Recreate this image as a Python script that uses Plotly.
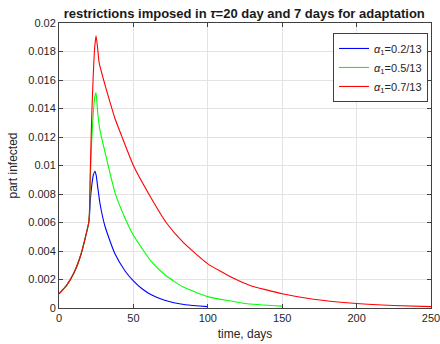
import plotly.graph_objects as go

# ---- data ----
t_blue = [0, 5, 10, 15, 20, 20.5, 21, 22, 23, 24.2, 25, 26, 27.6, 31, 37.6, 44.4, 50, 56, 62, 71, 85, 100]
y_blue = [0.0010, 0.00157, 0.00245, 0.00384, 0.0060, 0.0065, 0.0075, 0.0086, 0.0093, 0.0096, 0.0093, 0.0085,
          0.0073, 0.0057, 0.0038, 0.0026, 0.0019, 0.00133, 0.00093, 0.00054, 0.00023, 0.0001]

t_green = [0, 5, 10, 15, 20, 20.5, 21, 22, 23, 24, 24.9, 26, 27.5, 31, 37.6, 44.4, 50, 62, 72, 83.5, 100, 125, 150]
y_green = [0.0010, 0.00157, 0.00245, 0.00384, 0.0060, 0.0068, 0.0090, 0.0118, 0.0136, 0.0148, 0.0151, 0.0137,
           0.0125, 0.0109, 0.0081, 0.0063, 0.0051, 0.00327, 0.00226, 0.00147, 0.0008, 0.00032, 0.00013]

t_red = [0, 5, 10, 15, 20, 20.5, 21, 22, 23, 24, 24.9, 26, 27, 30, 33, 37.6, 42, 50, 62, 72, 83.5, 100, 117, 128,
         150, 171, 200, 225, 250]
y_red = [0.0010, 0.00157, 0.00245, 0.00384, 0.0060, 0.0068, 0.0095, 0.0135, 0.0163, 0.0183, 0.0191, 0.0182,
         0.0172, 0.0160, 0.0149, 0.0133, 0.0121, 0.0100, 0.0077, 0.0060, 0.0046, 0.0031, 0.0021, 0.0016,
         0.00100, 0.00062, 0.00032, 0.00018, 0.0001]

series_names = ["<i>α</i><sub>1</sub>=0.2/13", "<i>α</i><sub>1</sub>=0.5/13", "<i>α</i><sub>1</sub>=0.7/13"]

x_ticks = [0, 50, 100, 150, 200, 250]
y_ticks = [0, 0.002, 0.004, 0.006, 0.008, 0.01, 0.012, 0.014, 0.016, 0.018, 0.02]
y_tick_labels = ["0", "0.002", "0.004", "0.006", "0.008", "0.01", "0.012", "0.014", "0.016", "0.018", "0.02"]

title_text = "<b>restrictions imposed in <i>τ</i>=20 day and 7 days for adaptation</b>"

# ---- figure ----
fig = go.Figure()
for tx, ty, name, col in [(t_blue, y_blue, series_names[0], "#0000ff"),
                          (t_green, y_green, series_names[1], "#00ff00"),
                          (t_red, y_red, series_names[2], "#ff0000")]:
    fig.add_trace(go.Scatter(x=tx, y=ty, mode="lines", name=name,
                             line=dict(color=col, width=1.1, shape="spline", smoothing=0.5)))

axis_common = dict(showline=True, linecolor="#404040", linewidth=1, mirror="ticks",
                   ticks="inside", ticklen=4, tickcolor="#404040", automargin=False,
                   ticklabeloverflow="allow",
                   showgrid=True, gridcolor="#e3e3e3", gridwidth=1, zeroline=False,
                   tickfont=dict(family="Liberation Sans, Arial", size=11, color="#262626"))

fig.update_layout(
    width=440, height=344,
    margin=dict(l=59, r=9, t=23, b=36, autoexpand=False),
    paper_bgcolor="white", plot_bgcolor="white",
    font=dict(family="Liberation Sans, Arial", color="#262626"),
    title=dict(text=title_text, x=0.555, xanchor="center", y=0.962, yanchor="middle",
               font=dict(family="Liberation Sans, Arial", size=13, color="#1a1a1a")),
    xaxis=dict(range=[0, 250], tickvals=x_ticks, title=dict(text="time, days", standoff=6,
               font=dict(size=12)), **axis_common),
    yaxis=dict(range=[0, 0.02], tickvals=y_ticks, ticktext=y_tick_labels,
               title=dict(text="part infected", standoff=8, font=dict(size=12)), **axis_common),
    legend=dict(x=0.992, xanchor="right", y=0.965, yanchor="top",
                bgcolor="white", bordercolor="#404040", borderwidth=1,
                font=dict(family="Liberation Sans, Arial", size=11, color="#262626"),
                tracegroupgap=0, itemwidth=30),
    showlegend=True,
)

fig.write_html("out.html", config={"displayModeBar": False},
               post_script="document.body.style.margin='0';document.body.style.overflow='hidden';")
